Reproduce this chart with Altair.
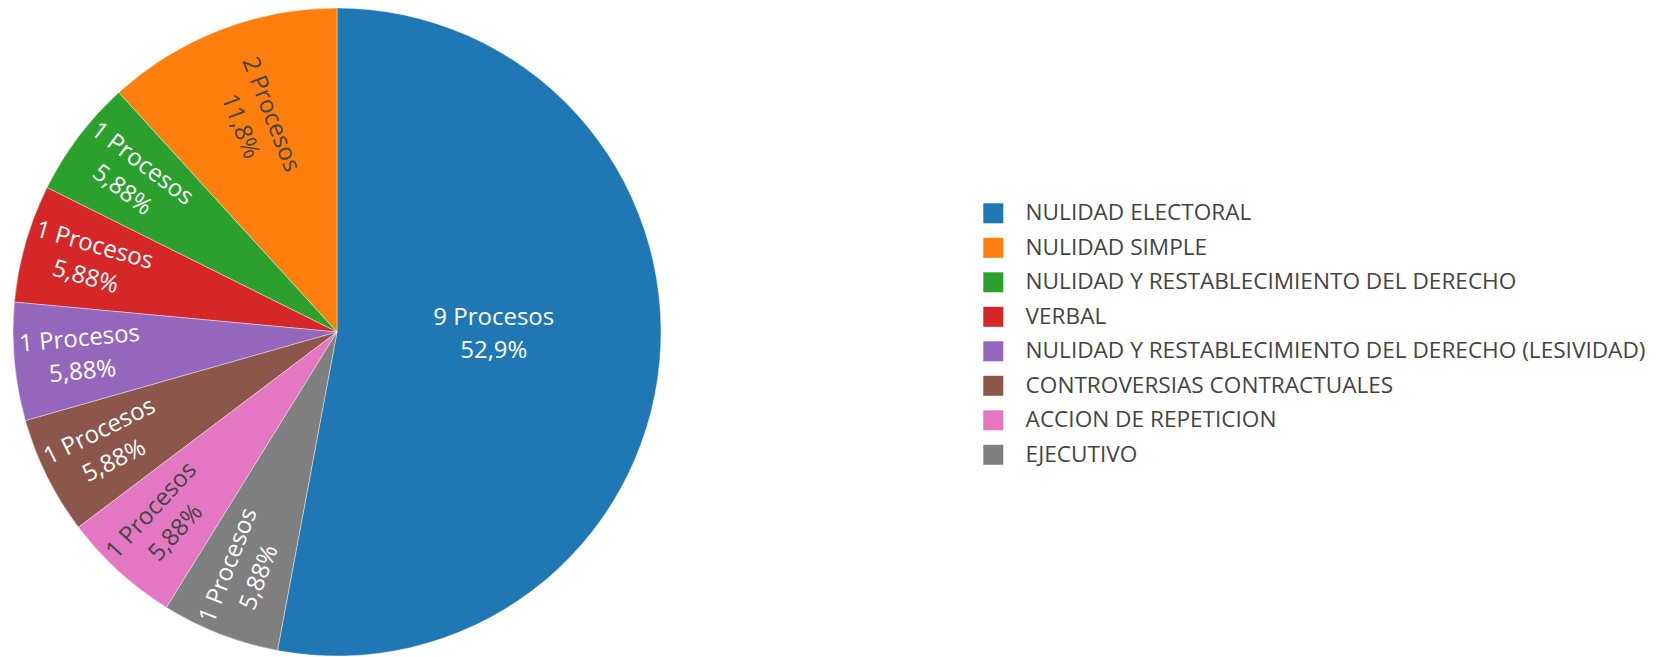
import altair as alt
import pandas as pd

tipos = [
    "NULIDAD ELECTORAL",
    "NULIDAD SIMPLE",
    "NULIDAD Y RESTABLECIMIENTO DEL DERECHO",
    "VERBAL",
    "NULIDAD Y RESTABLECIMIENTO DEL DERECHO (LESIVIDAD)",
    "CONTROVERSIAS CONTRACTUALES",
    "ACCION DE REPETICION",
    "EJECUTIVO",
]
procesos = [9, 2, 1, 1, 1, 1, 1, 1]
colores = ["#1f77b4", "#ff7f0e", "#2ca02c", "#d62728",
           "#9467bd", "#8c564b", "#e377c2", "#7f7f7f"]

R = 324


def texto_color(hexc):
    r, g, b = (int(hexc[i:i + 2], 16) for i in (1, 3, 5))
    return "#444444" if (r * 299 + g * 587 + b * 114) / 1000 > 128 else "#ffffff"


n = len(tipos)
# first slice clockwise from 12 o'clock, the rest follow counterclockwise
rango = [0] + [n - i for i in range(1, n)]

df = pd.DataFrame({
    "tipo": tipos,
    "procesos": procesos,
    "rango": rango,
    "tcolor": [texto_color(c) for c in colores],
})

base = alt.Chart(df).transform_joinaggregate(
    total="sum(procesos)"
).transform_window(
    acum="sum(procesos)",
    sort=[alt.SortField("rango", order="ascending")],
    frame=[None, 0],
).transform_calculate(
    frac="datum.procesos / datum.total"
).transform_calculate(
    centro="datum.acum - datum.procesos / 2"
).transform_calculate(
    medio="datum.centro / datum.total * 360"
).transform_calculate(
    etiqueta="datum.procesos + ' Procesos\\n' + replace(format(datum.frac, '.3p'), '.', ',')"
).transform_calculate(
    giro="(datum.medio + 90) % 360"
).transform_calculate(
    radio=f"datum.frac > 0.5 ? {0.486 * R} : (datum.frac > 0.1 ? {0.70 * R} : {0.793 * R})"
)

arcs = base.mark_arc(radius=R, stroke="white", strokeWidth=0.4).encode(
    theta=alt.Theta("procesos:Q", stack=True),
    order=alt.Order("rango:Q", sort="ascending"),
    color=alt.Color(
        "tipo:N",
        scale=alt.Scale(domain=tipos, range=colores),
        legend=alt.Legend(
            title=None,
            orient="none",
            legendX=974,
            legendY=194,
            symbolType="square",
            symbolSize=400,
            symbolStrokeWidth=0,
            labelFont="Open Sans",
            labelFontSize=22.6,
            labelColor="#444444",
            labelOffset=21,
            rowPadding=11.5,
            padding=0,
            labelLimit=900,
        ),
    ),
)

texto_enc = dict(
    theta=alt.Theta("centro:Q", stack=None),
    radius=alt.Radius("radio:Q", scale=None),
    text="etiqueta:N",
    fill=alt.Fill("tcolor:N", scale=None),
)

# large slice: horizontal label
horizontales = base.transform_filter("datum.frac > 0.5").mark_text(
    font="Open Sans", fontSize=24, lineBreak="\n", lineHeight=33,
    align="center", baseline="middle", dy=-28.5,
).encode(**texto_enc)

# smaller slices: radial labels
radiales = base.transform_filter("datum.frac <= 0.5").mark_text(
    font="Open Sans", fontSize=24, lineBreak="\n", lineHeight=33,
    align="center", baseline="middle", dy=-16.5,
).encode(angle=alt.Angle("giro:Q", scale=None), **texto_enc)

chart = alt.layer(arcs, horizontales, radiales).properties(
    width=658,
    height=648,
    autosize=alt.AutoSizeParams(type="none"),
    padding={"left": 0, "top": 0, "right": 990, "bottom": 1},
).configure_view(stroke=None)

chart.save("out.html", embed_options={"renderer": "svg", "actions": False})
